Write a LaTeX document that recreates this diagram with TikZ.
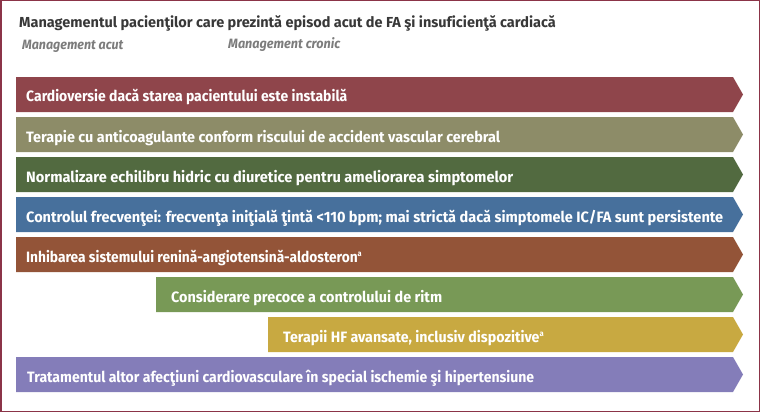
\documentclass[tikz,border=0pt]{standalone}
\usepackage{fontspec}
\usepackage{graphicx}
\setmainfont[Ligatures=NoCommon]{Fira Sans}
\newfontfamily\headfont[Ligatures=NoCommon]{Fira Sans}
\definecolor{framecol}{HTML}{8B3448}
\definecolor{titlecol}{HTML}{383838}
\definecolor{subcol}{HTML}{7C7C7C}
\definecolor{cA}{HTML}{8F454B}
\definecolor{cB}{HTML}{8D8C68}
\definecolor{cC}{HTML}{526A40}
\definecolor{cD}{HTML}{47709C}
\definecolor{cE}{HTML}{935438}
\definecolor{cF}{HTML}{789956}
\definecolor{cG}{HTML}{C8A941}
\definecolor{cH}{HTML}{847DB9}
\tikzset{
  bartext/.style={anchor=base west, inner sep=0pt, text=white, font=\bfseries\fontsize{15}{17}\selectfont},
  titletext/.style={anchor=base west, inner sep=0pt, text=titlecol, font=\headfont\bfseries\fontsize{14.5}{17}\selectfont},
  subtext/.style={anchor=base west, inner sep=0pt, text=subcol, font=\headfont\bfseries\itshape\fontsize{13.5}{15}\selectfont},
}
% name, left x, top y, colour, text x, text width, text
\newcommand{\pbar}[7]{%
  \fill[#4] (#2,#3) -- (733,#3) -- (743,#3+17.5) -- (733,#3+35) -- (#2,#3+35) -- cycle;
  \node[bartext] (#1) at (#5,#3+25) {\resizebox{#6pt}{\height}{#7}};
}
\newcommand{\supa}{\textsuperscript{\fontsize{8}{9}\selectfont a}}
\begin{document}
\begin{tikzpicture}[x=1pt,y=-1pt]
\useasboundingbox (0,0) rectangle (760,412);
\draw[framecol, line width=1.5pt] (0.75,0.75) rectangle (759.25,411.25);
\node[titletext] (title) at (19,28) {Managementul pacienţilor care prezintă episod acut de FA şi insuficienţă cardiacă};
\node[subtext] (acut) at (22,49) {\resizebox{101pt}{\height}{Management acut}};
\node[subtext] (cronic) at (228,49) {\resizebox{112pt}{\height}{Management cronic}};
\pbar{b1}{16}{77}{cA}{26}{321}{Cardioversie dacă starea pacientului este instabilă}
\pbar{b2}{16}{117}{cB}{26}{474}{Terapie cu anticoagulante conform riscului de accident vascular cerebral}
\pbar{b3}{16}{157}{cC}{26}{487}{Normalizare echilibru hidric cu diuretice pentru ameliorarea simptomelor}
\pbar{b4}{16}{197}{cD}{26}{697}{Controlul frecvenţei: frecvenţa iniţială ţintă <110 bpm; mai strictă dacă simptomele IC/FA sunt persistente}
\pbar{b5}{16}{237}{cE}{26}{336}{Inhibarea sistemului renină-angiotensină-aldosteron\supa}
\pbar{b6}{156}{277}{cF}{171}{271}{Considerare precoce a controlului de ritm}
\pbar{b7}{268}{317}{cG}{283}{261}{Terapii HF avansate, inclusiv dispozitive\supa}
\pbar{b8}{16}{357}{cH}{27}{507}{Tratamentul altor afecţiuni cardiovasculare în special ischemie şi hipertensiune}
\end{tikzpicture}
\end{document}
